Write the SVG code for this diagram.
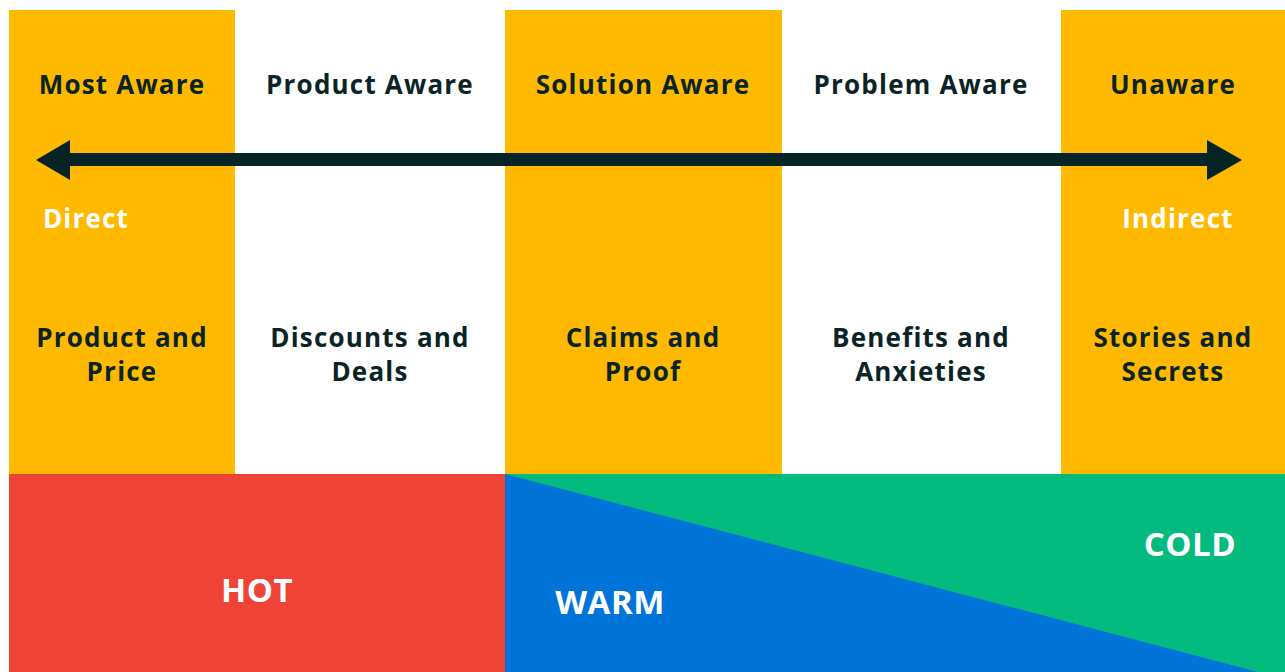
<svg xmlns="http://www.w3.org/2000/svg" width="1285" height="672" viewBox="0 0 1285 672">
  <style>
    .col-y { fill: #FFBA00; }
    .col-w { fill: #FFFFFF; }
    .hd { font-family: "Open Sans", "Liberation Sans", sans-serif; font-weight: 700; font-size: 26px; letter-spacing: 1.2px; fill: #0A2426; text-anchor: middle; }
    .lbl { font-family: "Open Sans", "Liberation Sans", sans-serif; font-weight: 700; font-size: 26px; letter-spacing: 1.2px; fill: #FFFFFF; text-anchor: middle; }
    .big { font-family: "Open Sans", "Liberation Sans", sans-serif; font-weight: 700; font-size: 33px; letter-spacing: 0.5px; fill: #FFFFFF; text-anchor: middle; }
  </style>
  <rect width="1285" height="672" fill="#FFFFFF"/>

  <!-- awareness stages -->
  <g id="most-aware">
    <rect class="col-y" x="9" y="10" width="226" height="464"/>
    <text class="hd" x="122" y="94">Most Aware</text>
    <text class="hd" x="122" y="347">Product and</text>
    <text class="hd" x="122" y="381">Price</text>
  </g>
  <g id="product-aware">
    <rect class="col-w" x="235" y="10" width="270" height="464"/>
    <text class="hd" x="370" y="94">Product Aware</text>
    <text class="hd" x="370" y="347">Discounts and</text>
    <text class="hd" x="370" y="381">Deals</text>
  </g>
  <g id="solution-aware">
    <rect class="col-y" x="505" y="10" width="277" height="464"/>
    <text class="hd" x="643" y="94">Solution Aware</text>
    <text class="hd" x="643" y="347">Claims and</text>
    <text class="hd" x="643" y="381">Proof</text>
  </g>
  <g id="problem-aware">
    <rect class="col-w" x="782" y="10" width="279" height="464"/>
    <text class="hd" x="921" y="94">Problem Aware</text>
    <text class="hd" x="921" y="347">Benefits and</text>
    <text class="hd" x="921" y="381">Anxieties</text>
  </g>
  <g id="unaware">
    <rect class="col-y" x="1061" y="10" width="224" height="464"/>
    <text class="hd" x="1173" y="94">Unaware</text>
    <text class="hd" x="1173" y="347">Stories and</text>
    <text class="hd" x="1173" y="381">Secrets</text>
  </g>

  <!-- temperature bands -->
  <g id="hot">
    <rect x="9" y="474" width="496" height="198" fill="#EF4338"/>
    <text class="big" x="257" y="602">HOT</text>
  </g>
  <g id="cold">
    <rect x="505" y="474" width="780" height="198" fill="#03BB7F"/>
    <text class="big" x="1190" y="556">COLD</text>
  </g>
  <g id="warm">
    <polygon points="505,474 1258,672 505,672" fill="#0074D9"/>
    <text class="big" x="610" y="614">WARM</text>
  </g>

  <!-- double-headed scale arrow -->
  <g id="connectors">
    <rect x="68" y="153" width="1141" height="13" fill="#052426"/>
    <polygon points="36,160 70,140 70,180" fill="#052426"/>
    <polygon points="1242,160 1207,140 1207,180" fill="#052426"/>
  </g>

  <g id="scale-labels">
    <text class="lbl" x="86" y="228">Direct</text>
    <text class="lbl" x="1178" y="228">Indirect</text>
  </g>
</svg>
